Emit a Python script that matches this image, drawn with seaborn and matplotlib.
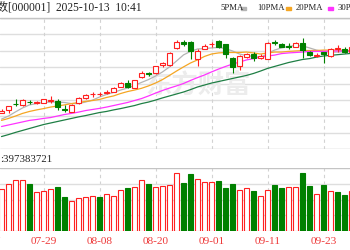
import numpy as np
import pandas as pd
import matplotlib
matplotlib.use("Agg")
import matplotlib.pyplot as plt
import seaborn as sns

sns.set_style("white")
plt.rcParams['font.family'] = ['Liberation Serif', 'Noto Sans CJK SC', 'DejaVu Sans']

# ---------------- data ----------------
dates = ["07-21", "07-22", "07-23", "07-24", "07-25", "07-28", "07-29", "07-30", "07-31", "08-01",
         "08-04", "08-05", "08-06", "08-07", "08-08", "08-11", "08-12", "08-13", "08-14", "08-15",
         "08-18", "08-19", "08-20", "08-21", "08-22", "08-25", "08-26", "08-27", "08-28", "08-29",
         "09-01", "09-02", "09-03", "09-04", "09-05", "09-08", "09-09", "09-10", "09-11", "09-12",
         "09-15", "09-16", "09-17", "09-18", "09-19", "09-22", "09-23", "09-24", "09-25", "09-26",
         "09-29"]
open_ = [3546, 3559, 3588, 3580, 3597, 3591, 3592, 3600, 3601, 3563,
         3551, 3589, 3612, 3630, 3631, 3636, 3642, 3665, 3681, 3661,
         3708, 3727, 3727, 3767, 3765, 3843, 3868, 3868, 3790, 3838,
         3859, 3875, 3859, 3795, 3760, 3801, 3814, 3799, 3791, 3870,
         3863, 3854, 3846, 3864, 3824, 3808, 3823, 3806, 3840, 3840,
         3824]
high = [3561, 3579, 3608, 3609, 3604, 3602, 3611, 3623, 3608, 3582,
        3584, 3616, 3630, 3642, 3642, 3650, 3664, 3685, 3696, 3698,
        3739, 3734, 3762, 3780, 3822, 3879, 3877, 3876, 3836, 3859,
        3869, 3879, 3861, 3803, 3811, 3820, 3826, 3815, 3870, 3879,
        3865, 3864, 3868, 3887, 3827, 3818, 3826, 3841, 3856, 3846,
        3852]
low = [3543, 3546, 3577, 3579, 3586, 3586, 3591, 3591, 3559, 3551,
       3549, 3586, 3609, 3620, 3623, 3632, 3641, 3664, 3659, 3659,
       3704, 3714, 3724, 3757, 3762, 3838, 3852, 3792, 3758, 3836,
       3849, 3843, 3797, 3727, 3742, 3795, 3784, 3792, 3790, 3856,
       3847, 3837, 3845, 3795, 3806, 3800, 3773, 3800, 3826, 3818,
       3822]
close = [3556, 3577, 3584, 3604, 3594, 3595, 3608, 3604, 3574, 3559,
         3582, 3612, 3627, 3634, 3633, 3640, 3661, 3681, 3665, 3696,
         3727, 3724, 3760, 3772, 3818, 3870, 3863, 3829, 3831, 3854,
         3862, 3849, 3815, 3757, 3806, 3813, 3798, 3808, 3867, 3865,
         3849, 3849, 3865, 3833, 3811, 3812, 3814, 3838, 3844, 3824,
         3849]
ma5 = [3517, 3531, 3550, 3568, 3582, 3588, 3593, 3595, 3595, 3593,
       3588, 3588, 3595, 3604, 3618, 3630, 3639, 3650, 3659, 3671,
       3685, 3698, 3714, 3733, 3756, 3783, 3811, 3827, 3838, 3840,
       3843, 3845, 3840, 3829, 3815, 3808, 3804, 3799, 3817, 3833,
       3843, 3850, 3854, 3852, 3843, 3833, 3827, 3824, 3824, 3827,
       3829]
ma10 = [3511, 3520, 3531, 3543, 3552, 3559, 3565, 3572, 3577, 3582,
        3588, 3593, 3598, 3602, 3607, 3616, 3623, 3634, 3643, 3650,
        3658, 3669, 3682, 3698, 3717, 3737, 3756, 3774, 3788, 3804,
        3815, 3820, 3822, 3822, 3822, 3824, 3820, 3815, 3820, 3824,
        3824, 3827, 3829, 3831, 3831, 3831, 3833, 3833, 3833, 3831,
        3829]
ma20 = [3483, 3490, 3497, 3504, 3511, 3515, 3520, 3524, 3531, 3538,
        3543, 3549, 3556, 3561, 3566, 3572, 3579, 3586, 3593, 3602,
        3611, 3623, 3636, 3648, 3659, 3669, 3680, 3694, 3707, 3719,
        3733, 3746, 3758, 3769, 3778, 3788, 3794, 3801, 3806, 3810,
        3817, 3820, 3822, 3824, 3827, 3827, 3827, 3829, 3829, 3829,
        3829]
ma30 = [3437, 3446, 3456, 3465, 3474, 3483, 3492, 3499, 3506, 3513,
        3520, 3527, 3533, 3540, 3547, 3552, 3559, 3565, 3572, 3579,
        3588, 3595, 3604, 3614, 3623, 3632, 3641, 3652, 3664, 3673,
        3682, 3689, 3696, 3703, 3710, 3717, 3726, 3737, 3749, 3758,
        3767, 3776, 3783, 3790, 3794, 3801, 3806, 3809, 3812, 3815,
        3818]
# volume (亿手) and volume bar direction (1 = red/up, 0 = green/down)
volume = [6.42, 7.23, 7.85, 7.85, 7.18, 6.05, 6.15, 6.42, 6.72, 5.18,
          4.66, 5.03, 5.18, 5.43, 5.28, 5.65, 5.43, 6.31, 6.57, 6.82,
          7.85, 7.18, 6.82, 6.97, 7.08, 8.97, 7.43, 8.82, 7.95, 7.49,
          7.49, 7.69, 6.57, 7.23, 6.31, 6.66, 6.15, 5.43, 6.31, 7.08,
          6.57, 6.82, 6.72, 8.97, 6.97, 5.69, 7.08, 6.15, 6.05, 5.54,
          6.15]
vol_up = [1, 1, 1, 1, 0, 1, 1, 1, 0, 0,
          1, 1, 1, 1, 0, 1, 1, 1, 0, 1,
          1, 0, 1, 1, 1, 1, 0, 0, 1, 1,
          1, 0, 0, 0, 1, 1, 0, 1, 1, 0,
          0, 1, 1, 0, 0, 1, 0, 1, 0, 0,
          1]
tick_dates = ["07-17", "07-29", "08-08", "08-20", "09-01", "09-11", "09-23"]
tick_pos = [-2, 6, 14, 22, 30, 38, 46]
title = "上证指数[000001]  2025-10-13  10:41"
vol_text = ":397383721"
legend_labels = ["5PMA", "10PMA", "20PMA", "30PMA"]

# ---------------- style ----------------
RED = "#ff2020"
GREEN = "#008000"
MA_COLORS = ["#b4b4b4", "#f5a623", "#ff33ff", "#1f7f45"]
GRID = "#dedede"
FRAME = "#c4c4c4"

df = pd.DataFrame({"i": np.arange(len(dates)), "open": open_, "high": high, "low": low,
                   "close": close, "ma5": ma5, "ma10": ma10, "ma20": ma20, "ma30": ma30,
                   "vol": volume, "vup": vol_up})

fig = plt.figure(figsize=(3.5, 2.5), dpi=100)
fig.patch.set_facecolor("white")
ax = fig.add_axes([0, 1 - 149 / 250, 1, 131 / 250])
axv = fig.add_axes([0, 1 - 231 / 250, 1, 63 / 250])

xlim = (-1.5 / 7, (350 - 1.5) / 7)
for a in (ax, axv):
    a.set_xlim(*xlim)
    a.set_xticks([])
    a.set_yticks([])
    for s in a.spines.values():
        s.set_visible(False)
    a.set_facecolor("white")

# price panel
plo, phi = 3380, 3980
ax.set_ylim(plo, phi)
for k, yv in enumerate(np.linspace(plo, phi, 9)):
    col = FRAME if k in (0, 8) else GRID
    ax.axhline(yv, color=col, lw=1.0, zorder=0)
for tp in tick_pos:
    ax.axvline(tp, color="#d2d2d2", lw=0.8, ls=(0, (3, 3)), zorder=0)
    axv.axvline(tp, color="#d2d2d2", lw=0.8, ls=(0, (3, 3)), zorder=0)

# watermark
ax.text(0.565, 0.49, "东方财富", transform=ax.transAxes, ha="center", va="center",
        fontsize=19, color="#ececec", fontweight="bold", family=["Noto Sans CJK SC"], zorder=0.5)

# candles
for _, r in df.iterrows():
    up = r["close"] >= r["open"]
    col = RED if up else GREEN
    ax.vlines(r["i"], r["low"], r["high"], color=col, lw=0.8, zorder=3)
    body = max(abs(r["close"] - r["open"]), 0.8)
    ax.bar(r["i"], body, bottom=min(r["open"], r["close"]), width=0.6,
           facecolor="white" if up else GREEN, edgecolor=col, lw=0.8, zorder=4)

# moving averages (seaborn)
for name, c in zip(["ma5", "ma10", "ma20", "ma30"], MA_COLORS):
    sns.lineplot(data=df, x="i", y=name, ax=ax, color=c, lw=0.9, zorder=2, legend=False)
ax.set_xlim(*xlim)
ax.set_ylim(plo, phi)
ax.set_xlabel("")
ax.set_ylabel("")

# volume panel
vtop = 9.7
axv.set_ylim(0, vtop)
for k, yv in enumerate(np.linspace(0, vtop, 5)):
    col = FRAME if k == 4 else GRID
    axv.axhline(yv, color=col, lw=1.0, zorder=0)
for _, r in df.iterrows():
    up = r["vup"] == 1
    axv.bar(r["i"], r["vol"], width=0.68, facecolor="white" if up else GREEN,
            edgecolor=RED if up else GREEN, lw=0.8, zorder=3)
axv.set_xlim(*xlim)
axv.set_xlabel("")
axv.set_ylabel("")

# date labels
for tp, lab in zip(tick_pos, tick_dates):
    x_fig = (tp - xlim[0]) / (xlim[1] - xlim[0])
    fig.text(x_fig, 1 - 241 / 250, lab, ha="center", va="center", fontsize=8.2, color="#ee3a3a")

# header
fig.text(142 / 350, 1 - 8 / 250, title, ha="right", va="center", fontsize=8.3, color="#222222")
fig.text(0, 1 - 160 / 250, vol_text, ha="left", va="center", fontsize=7.8, color="#222222")

# legend
leg_x = [220, 257, 296, 338]
mk_x = [241, 286, 328, None]
for lx, mx, lab, c in zip(leg_x, mk_x, legend_labels, MA_COLORS):
    fig.text(lx / 350, 1 - 8 / 250, lab, ha="left", va="center", fontsize=6.2, color="#222222")
    if mx is not None:
        fig.patches.append(plt.Rectangle((mx / 350, 1 - 10 / 250), 5 / 350, 3 / 250,
                                         transform=fig.transFigure, color=c, figure=fig))

# top frame line of header area
fig.add_artist(plt.Line2D([0, 1], [1 - 18 / 250, 1 - 18 / 250], transform=fig.transFigure,
                          color=FRAME, lw=1.0))

fig.savefig("out.png", dpi=100, facecolor="white")
